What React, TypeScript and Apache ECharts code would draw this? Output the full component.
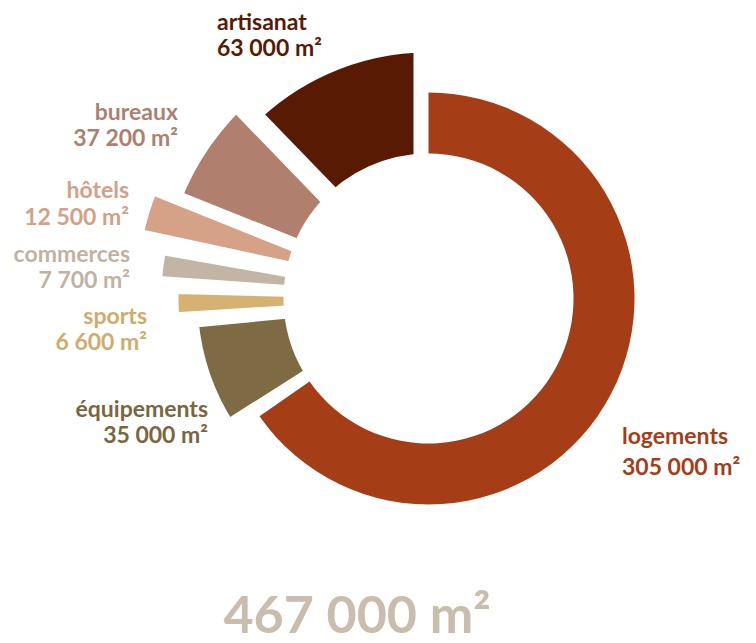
import React, { useEffect, useRef } from "react";
import * as echarts from "echarts";

// ---- data ----
const categories = ["logements", "équipements", "sports", "commerces", "hôtels", "bureaux", "artisanat"];
const values = [305000, 35000, 6600, 7700, 12500, 37200, 63000];
const unit = "m²";

// ---- styles (per slice, same order as categories) ----
const colors = ["#a53d17", "#7f6b43", "#d5b272", "#c3b5a6", "#d5a187", "#b07f6e", "#591a04"];
const labelColors = ["#a53d17", "#7a6640", "#d0ac6c", "#bfb2a4", "#d3a186", "#ad7f6f", "#591a04"];
const outerR = [206, 231, 250, 267, 292, 266, 246];
const innerR = 145;
const gapBorder = [0, 13, 4, 7, 14, 21, 30];
const rotate = [0, 2.4, 4.3, 6.85, 9.06, 4.5, 0];
const drawOrder = [6, 5, 1, 4, 3, 2, 0];
const labelPos = [
  { x: 622, y: 435, align: "left" },
  { x: 208, y: 408, align: "right" },
  { x: 147, y: 315, align: "right" },
  { x: 130, y: 253, align: "right" },
  { x: 129, y: 189, align: "right" },
  { x: 178, y: 111, align: "right" },
  { x: 217, y: 21, align: "left" },
];
const lineGap = [31, 26, 26, 26, 27, 26, 26];
const center = [428.5, 298.5];

const fmt = (n: number) => String(n).replace(/\B(?=(\d{3})+(?!\d))/g, " ");

export default function App() {
  const ref = useRef<HTMLDivElement>(null);
  useEffect(() => {
    if (!ref.current) return;
    document.body.style.margin = "0";
    const chart = echarts.init(ref.current, null, { renderer: "svg" });
    const total = values.reduce((a, b) => a + b, 0);

    const series = drawOrder.map((i, k) => ({
      type: "pie",
      z: k + 1,
      silent: true,
      center,
      radius: [innerR - gapBorder[i] / 2, outerR[i] + gapBorder[i] / 2],
      startAngle: 90 - rotate[i],
      clockwise: true,
      minAngle: 0,
      avoidLabelOverlap: false,
      label: { show: false },
      labelLine: { show: false },
      emphasis: { disabled: true },
      data: categories.map((name, j) => ({
        name,
        value: values[j],
        itemStyle:
          j === i
            ? {
                color: colors[i],
                borderColor: "#ffffff",
                borderWidth: gapBorder[i],
                borderJoin: "miter",
                borderMiterLimit: 30,
                opacity: 1,
              }
            : { color: "rgba(0,0,0,0)", borderWidth: 0 },
      })),
    }));

    const font = "bold 23px Lato";
    const texts: any[] = [];
    categories.forEach((name, i) => {
      const p = labelPos[i];
      texts.push({
        type: "text",
        x: p.x,
        y: p.y,
        z: 100,
        silent: true,
        style: { text: name, font, fill: labelColors[i], align: p.align, verticalAlign: "middle" },
      });
      texts.push({
        type: "text",
        x: p.x,
        y: p.y + lineGap[i],
        z: 100,
        silent: true,
        style: {
          text: `${fmt(values[i])} ${unit}`,
          font,
          fill: labelColors[i],
          align: p.align,
          verticalAlign: "middle",
        },
      });
    });
    texts.push({
      type: "text",
      x: 357,
      y: 613,
      z: 100,
      silent: true,
      style: {
        text: `${fmt(total)} ${unit}`,
        font: "bold 52px Lato",
        fill: "#c9bdad",
        align: "center",
        verticalAlign: "middle",
      },
    });

    chart.setOption({
      animation: false,
      backgroundColor: "#ffffff",
      tooltip: { show: false },
      series,
      graphic: { elements: texts },
    });
    return () => chart.dispose();
  }, []);
  return <div ref={ref} style={{ width: 756, height: 643 }} />;
}
